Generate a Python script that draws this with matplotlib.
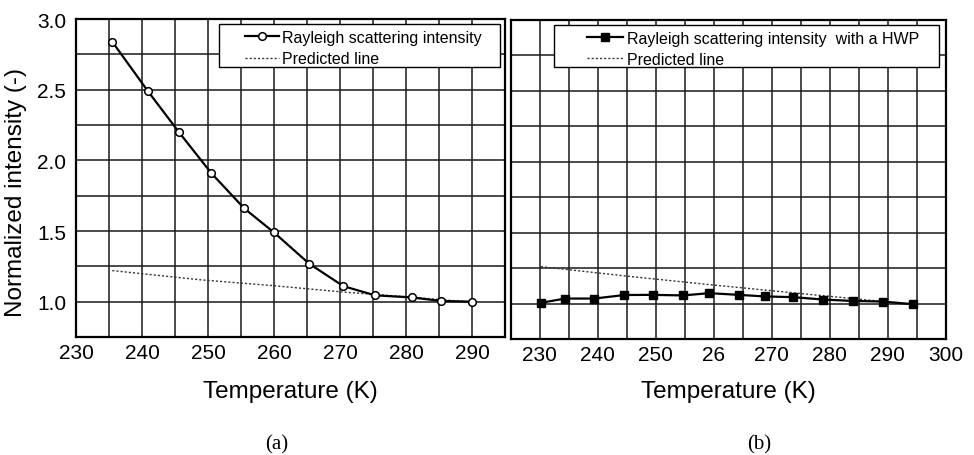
import matplotlib.pyplot as plt
from matplotlib.patches import Rectangle
import numpy as np

# (a) Rayleigh scattering intensity
temp_a = [235.5, 240.9, 245.6, 250.5, 255.5, 260.0, 265.3, 270.5, 275.3, 280.9, 285.3, 290.0]
inten_a = [2.84, 2.49, 2.20, 1.91, 1.66, 1.49, 1.27, 1.11, 1.045, 1.03, 1.005, 1.0]
pred_temp_a = [235.5, 248.8, 260.0, 270.0, 280.0, 289.0]
pred_a = [1.22, 1.155, 1.113, 1.07, 1.035, 1.0]

# (b) with a HWP
temp_b = [230.2, 234.4, 239.4, 244.6, 249.5, 254.7, 259.2, 264.3, 268.8, 273.6, 278.9, 284.0, 289.1, 294.4]
inten_b = [1.005, 1.035, 1.035, 1.06, 1.061, 1.057, 1.073, 1.061, 1.05, 1.045, 1.028, 1.018, 1.014, 0.995]
pred_temp_b = [230.2, 245.0, 260.0, 274.3, 289.0]
pred_b = [1.26, 1.193, 1.13, 1.073, 1.015]

xticks_a = [230, 240, 250, 260, 270, 280, 290]
xticks_b = [230, 240, 250, 260, 270, 280, 290, 300]
xlabels_b = ["230", "240", "250", "26", "270", "280", "290", "300"]
yticks = [1.0, 1.5, 2.0, 2.5, 3.0]

plt.rcParams['font.family'] = ['Liberation Sans', 'DejaVu Sans']

fig = plt.figure(figsize=(9.74, 4.56), dpi=100)
ax1 = fig.add_axes([0.078, 0.2588, 0.4405, 0.697])
ax2 = fig.add_axes([0.5243, 0.2544, 0.4469, 0.7002])

grid_kw = dict(color='#1a1a1a', linewidth=1.1)


def setup(ax, xmin, xmax, lpad):
    ax.set_xlim(xmin, xmax)
    ax.set_ylim(0.75, 3.0)
    ax.set_xticks(np.arange(xmin, xmax + 0.1, 5), minor=True)
    ax.set_yticks(np.arange(0.75, 3.01, 0.25), minor=True)
    ax.grid(True, which='both', **grid_kw)
    ax.set_axisbelow(True)
    ax.tick_params(which='both', length=0, labelsize=15)
    ax.tick_params(axis='x', pad=4)
    ax.tick_params(axis='y', pad=7)
    for s in ax.spines.values():
        s.set_linewidth(1.6)
        s.set_color('black')
    ax.set_xlabel('Temperature (K)', fontsize=17.5, labelpad=lpad)


setup(ax1, 230, 295, 13)
ax1.set_xticks(xticks_a)
ax1.set_yticks(yticks)
ax1.set_yticklabels(["%.1f" % v for v in yticks])

ax1.plot(pred_temp_a, pred_a, linestyle=(0, (1.5, 1.5)), color='#333333', lw=1.0,
         label='Predicted line')
ax1.plot(temp_a, inten_a, '-o', color='black', lw=1.6, ms=5.5, mfc='white', mec='black',
         mew=1.1, label='Rayleigh scattering intensity')

setup(ax2, 225, 300, 11.5)
ax2.set_xticks(xticks_b)
ax2.set_xticklabels(xlabels_b)
ax2.set_yticks(yticks)
ax2.set_yticklabels([])

ax2.plot(pred_temp_b, pred_b, linestyle=(0, (1.5, 1.5)), color='#333333', lw=1.0,
         label='Predicted line')
ax2.plot(temp_b, inten_b, '-s', color='black', lw=1.6, ms=6, label='Rayleigh scattering intensity  with a HWP')

# legend boxes
for ax, box, hx, hl in [(ax1, (0.333, 0.849, 0.655, 0.135), 0.394, 2.1),
                        (ax2, (0.100, 0.851, 0.885, 0.132), 0.1746, 2.3)]:
    ax.add_patch(Rectangle(box[:2], box[2], box[3], transform=ax.transAxes,
                           facecolor='white', edgecolor='black', lw=1.0, zorder=4))
    h, l = ax.get_legend_handles_labels()
    leg = ax.legend(h[::-1], l[::-1], loc='upper left', bbox_to_anchor=(hx, 0.966),
                    frameon=False, fontsize=11.5, borderpad=0, borderaxespad=0,
                    handlelength=hl, handletextpad=0.2, labelspacing=0.4)
    leg.set_zorder(5)

fig.text(0.016, 0.578, 'Normalized intensity (-)', rotation=90, fontsize=17.5,
         ha='center', va='center')
fig.text(0.284, 0.025, '(a)', fontsize=15, family='Liberation Serif', ha='center', va='center')
fig.text(0.779, 0.025, '(b)', fontsize=15, family='Liberation Serif', ha='center', va='center')

fig.savefig('out.png', dpi=100)
